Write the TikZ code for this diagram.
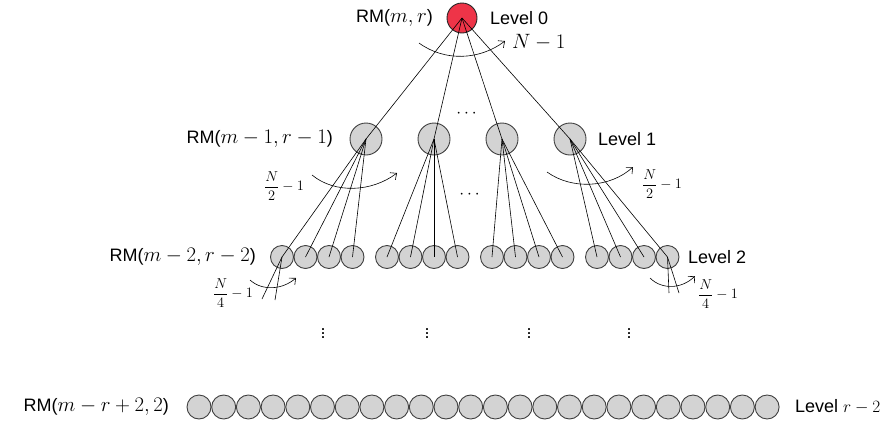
\documentclass[tikz,border=0pt]{standalone}
\usepackage{amsmath}
\usepackage{fontspec}
\setmainfont{Liberation Sans}
\usetikzlibrary{arrows.meta}
\definecolor{rootred}{RGB}{238,52,72}
\definecolor{nodegray}{RGB}{211,211,211}
\newcommand{\mathlg}[1]{{\fontsize{21.5}{24}\selectfont$#1$}}

\begin{document}
\begin{tikzpicture}[x=1pt, y=-1pt, >={Straight Barb[length=5pt,width=9pt]},
    every node/.style={font=\fontsize{18}{22}\selectfont},
    cw/.style={circle, draw=black!75, fill=nodegray, inner sep=0pt, line width=0.9pt},
    frac/.style={font=\fontsize{15}{17}\selectfont, inner sep=0pt},
    edge/.style={line width=0.6pt}]
\useasboundingbox (0,0) rectangle (881,426);

% level 0
\node[cw, fill=rootred, draw=black!85, minimum size=30pt] (root) at (462,18) {};
\node[anchor=east, inner sep=0pt] (t0) at (433,18) {RM(\mathlg{m,r})};
\node[anchor=west, inner sep=0pt] (v0) at (490,18) {Level 0};

% level 1
\foreach \g in {0,...,3}
    \node[cw, minimum size=32pt] (a\g) at ({366+68*\g},139) {};
\node[anchor=east, inner sep=0pt] (t1) at (333,139) {RM(\mathlg{m-1,r-1})};
\node[anchor=west, inner sep=0pt] (v1) at (598,139) {Level 1};
\node (d1) at (468,114) {$\cdots$};

% level 2
\foreach \g in {0,...,3}
    \foreach \i in {0,...,3}
        \node[cw, minimum size=23pt] (b\g\i) at ({282+105*\g+23.5*\i},257) {};
\node[anchor=east, inner sep=0pt] (t2) at (256,257) {RM(\mathlg{m-2,r-2})};
\node[anchor=west, inner sep=0pt] (v2) at (688,257) {Level 2};
\node (d2) at (471,195) {$\cdots$};

% vertical dots
\foreach \x/\n in {323/1,427/2,529/3,629/4}
    \node (vd\n) at (\x,331) {$\vdots$};

% last level
\foreach \i in {0,...,23}
    \node[cw, minimum size=24pt] (c\i) at ({199+24.7*\i},407) {};
\node[anchor=east, inner sep=0pt] (t3) at (169,407) {RM(\mathlg{m-r+2,2})};
\node[anchor=west, inner sep=0pt] (v3) at (795,407) {Level $r-2$};

% edges
\foreach \g in {0,...,3}
    \draw[edge] (root.center) -- (a\g.center);
\foreach \g in {0,...,3}
    \foreach \i in {0,...,3}
        \draw[edge] (a\g.center) -- (b\g\i.center);
\coordinate (p1) at (262,299);
\coordinate (p2) at (275,300);
\coordinate (q1) at (669,293);
\coordinate (q2) at (679,293);
\draw[edge] (b00.center) -- (p1);
\draw[edge] (b00.center) -- (p2);
\draw[edge] (b33.center) -- (q1);
\draw[edge] (b33.center) -- (q2);

% fan arrows
\coordinate (s0) at (419,43);
\coordinate (e0) at (505,41);
\draw[edge,->] (s0) .. controls (445,62) and (480,60) .. (e0);
\node[anchor=west, inner sep=0pt, font=\fontsize{19.5}{22}\selectfont] (n0) at (512,42) {$N-1$};

\coordinate (s1) at (312,175);
\coordinate (e1) at (397,173);
\draw[edge,->] (s1) .. controls (335,194) and (372,192) .. (e1);
\node[frac] (n1) at (284,186) {$\dfrac{N}{2}-1$};

\coordinate (s2) at (547,172);
\coordinate (e2) at (633,167);
\draw[edge,->] (s2) .. controls (572,190) and (610,188) .. (e2);
\node[frac] (n2) at (662,184) {$\dfrac{N}{2}-1$};

\coordinate (s3) at (250,280);
\coordinate (e3) at (296,278);
\draw[edge,->] (s3) .. controls (262,291) and (282,290) .. (e3);
\node[frac] (n3) at (233,293) {$\dfrac{N}{4}-1$};

\coordinate (s4) at (650,278);
\coordinate (e4) at (695,276);
\draw[edge,->] (s4) .. controls (662,290) and (682,289) .. (e4);
\node[frac] (n4) at (718,294) {$\dfrac{N}{4}-1$};
\end{tikzpicture}
\end{document}
